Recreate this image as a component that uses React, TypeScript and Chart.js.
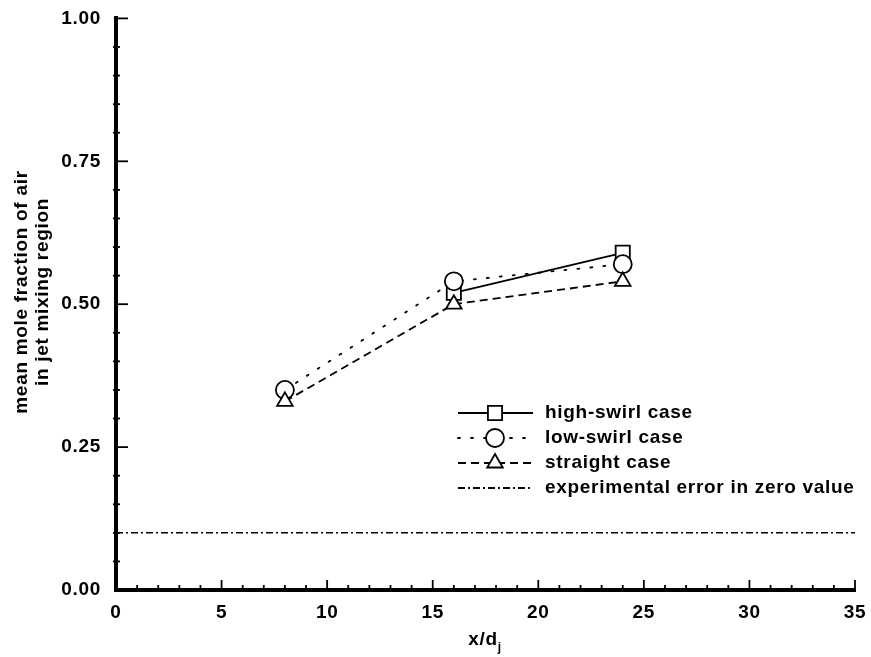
import React, { useEffect, useRef } from "react";
import { Chart, registerables } from "chart.js";

Chart.register(...registerables);

const xPositions = [8, 16, 24];
const highSwirl = [null, 0.52, 0.59];
const lowSwirl = [0.35, 0.54, 0.57];
const straight = [0.33, 0.5, 0.54];
const errorX = [0, 35];
const errorY = [0.1, 0.1];
const legendLabels = [
  "high-swirl case",
  "low-swirl case",
  "straight case",
  "experimental error in zero value",
];
const yTitleLines = ["mean mole fraction of air", "in jet mixing region"];

const FONT = "'Liberation Sans', Arial, Helvetica, sans-serif";
const FS = 19;
const LS = "0.7px";

const dashSolid: number[] = [];
const dashDot = [2, 11];
const dashDash = [8, 5];
const dashDashDot = [7, 3, 2, 3];

function drawMarker(ctx: CanvasRenderingContext2D, style: string, x: number, y: number, r: number) {
  ctx.save();
  ctx.setLineDash([]);
  ctx.lineWidth = 1.8;
  ctx.strokeStyle = "#000";
  ctx.fillStyle = "#fff";
  ctx.beginPath();
  if (style === "rect") {
    const s = r * Math.SQRT1_2;
    ctx.rect(x - s, y - s, 2 * s, 2 * s);
  } else if (style === "circle") {
    ctx.arc(x, y, r, 0, Math.PI * 2);
  } else if (style === "triangle") {
    const a = (Math.PI * 2) / 3;
    ctx.moveTo(x, y - r);
    ctx.lineTo(x + r * Math.sin(a), y + r * 0.5);
    ctx.lineTo(x - r * Math.sin(a), y + r * 0.5);
    ctx.closePath();
  }
  ctx.fill();
  ctx.stroke();
  ctx.restore();
}

const spacingPlugin = {
  id: "spacing",
  beforeUpdate(chart: any) {
    (chart.ctx as any).letterSpacing = LS;
  },
  beforeDraw(chart: any) {
    (chart.ctx as any).letterSpacing = LS;
  },
};

const decorPlugin = {
  id: "decor",
  afterDraw(chart: any) {
    const ctx: CanvasRenderingContext2D = chart.ctx;
    const xs = chart.scales.x;
    const ys = chart.scales.y;
    const area = chart.chartArea;
    ctx.save();
    (ctx as any).letterSpacing = LS;
    ctx.strokeStyle = "#000";
    ctx.lineWidth = 1.8;
    // x ticks inward
    for (let v = 0; v <= 35; v += 1) {
      const px = xs.getPixelForValue(v);
      const len = v % 5 === 0 ? 10 : 5;
      ctx.beginPath();
      ctx.moveTo(px, area.bottom);
      ctx.lineTo(px, area.bottom - len);
      ctx.stroke();
    }
    // y ticks inward
    for (let i = 0; i <= 20; i++) {
      const v = i * 0.05;
      const py = ys.getPixelForValue(v);
      const len = i % 5 === 0 ? 12 : 4;
      ctx.beginPath();
      ctx.moveTo(area.left - (i % 5 === 0 ? 0 : 3), py);
      ctx.lineTo(area.left + len, py);
      ctx.stroke();
    }
    // y title
    ctx.fillStyle = "#000";
    ctx.font = `bold ${FS}px ${FONT}`;
    ctx.textAlign = "center";
    ctx.textBaseline = "middle";
    ctx.save();
    ctx.translate(22, 292);
    ctx.rotate(-Math.PI / 2);
    ctx.fillText(yTitleLines[0], 0, 0);
    ctx.fillText(yTitleLines[1], 0, 21);
    ctx.restore();
    // x title
    ctx.textAlign = "left";
    ctx.textBaseline = "alphabetic";
    const xt = "x/d";
    const w = ctx.measureText(xt).width;
    const sw = 5;
    const cx = xs.getPixelForValue(17.5);
    const startX = cx - (w + sw) / 2;
    ctx.fillText(xt, startX, 645);
    ctx.font = `bold 12px ${FONT}`;
    ctx.fillText("j", startX + w, 651);
    // legend
    ctx.font = `bold ${FS}px ${FONT}`;
    ctx.textBaseline = "middle";
    const rows = [
      { dash: dashSolid, marker: "rect", r: 10 },
      { dash: dashDot, marker: "circle", r: 9 },
      { dash: dashDash, marker: "triangle", r: 9 },
      { dash: dashDashDot, marker: "", r: 0 },
    ];
    const y0 = 413;
    const dy = 25;
    rows.forEach((row, i) => {
      const y = y0 + i * dy;
      ctx.save();
      ctx.lineWidth = 1.8;
      ctx.setLineDash(row.dash);
      ctx.lineCap = row.dash === dashDot ? "round" : "butt";
      ctx.beginPath();
      ctx.moveTo(458, y);
      ctx.lineTo(533, y);
      ctx.stroke();
      ctx.restore();
      if (row.marker) drawMarker(ctx, row.marker, 495, y, row.r);
      ctx.fillStyle = "#000";
      ctx.fillText(legendLabels[i], 545, y);
    });
    ctx.restore();
  },
};

export default function App() {
  const ref = useRef<HTMLCanvasElement>(null);
  useEffect(() => {
    document.body.style.margin = "0";
    const toPts = (arr: (number | null)[]) => xPositions.map((x, i) => ({ x, y: arr[i] }));
    const common = {
      borderColor: "#000",
      borderWidth: 1.8,
      pointBackgroundColor: "#fff",
      pointBorderColor: "#000",
      pointBorderWidth: 1.8,
      showLine: true,
      spanGaps: false,
    };
    const chart = new Chart(ref.current!, {
      type: "scatter",
      data: {
        datasets: [
          { ...common, label: legendLabels[0], data: toPts(highSwirl), pointStyle: "rect", pointRadius: 10, borderDash: dashSolid, order: 2 },
          { ...common, label: legendLabels[1], data: toPts(lowSwirl), pointStyle: "circle", pointRadius: 9, borderDash: dashDot, borderCapStyle: "round", order: 1 },
          { ...common, label: legendLabels[2], data: toPts(straight), pointStyle: "triangle", pointRadius: 9, borderDash: dashDash, order: 0 },
          { ...common, label: legendLabels[3], data: errorX.map((x, i) => ({ x, y: errorY[i] })), pointRadius: 0, borderWidth: 1.5, borderDash: dashDashDot, order: 3 },
        ] as any,
      },
      options: {
        responsive: false,
        animation: false,
        layout: { padding: { top: 14, right: 16, left: 0, bottom: 0 } },
        plugins: { legend: { display: false }, tooltip: { enabled: false } },
        scales: {
          x: {
            type: "linear",
            min: 0,
            max: 35,
            grid: { display: false },
            border: { display: true, color: "#000", width: 4 },
            ticks: { stepSize: 5, color: "#000", padding: 3, maxRotation: 0, font: { family: FONT, size: FS, weight: "bold" } },
            afterFit: (s: any) => { s.height = 67; },
          },
          y: {
            type: "linear",
            min: 0,
            max: 1,
            grid: { display: false },
            border: { display: true, color: "#000", width: 4 },
            ticks: {
              stepSize: 0.25,
              color: "#000",
              padding: 7,
              font: { family: FONT, size: FS, weight: "bold" },
              callback: (v: any) => Number(v).toFixed(2),
            },
            afterFit: (s: any) => { s.width = 116; },
          },
        },
      } as any,
      plugins: [spacingPlugin, decorPlugin],
    });
    return () => chart.destroy();
  }, []);
  return (
    <div style={{ width: 871, height: 657 }}>
      <canvas ref={ref} width={871} height={657} />
    </div>
  );
}
